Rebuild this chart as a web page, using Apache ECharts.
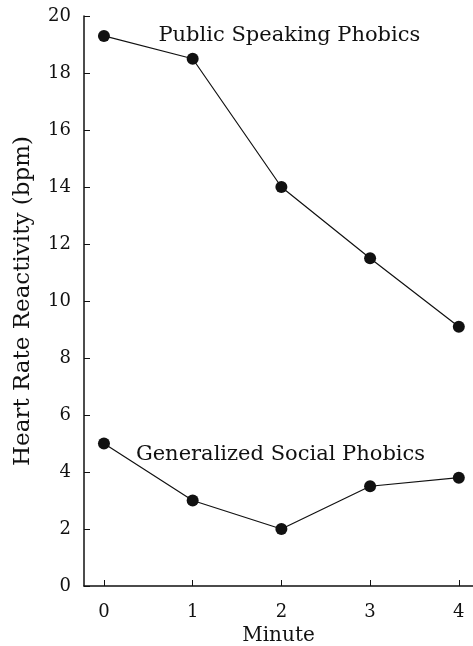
<!DOCTYPE html>
<html>
<head>
<meta charset="utf-8">
<script src="https://cdn.jsdelivr.net/npm/echarts@6/dist/echarts.min.js"></script>
<style>html,body{margin:0;padding:0;background:#fff}#c{width:473px;height:646px}</style>
</head>
<body>
<div id="c"></div>
<script>
const minutes = [0, 1, 2, 3, 4];
const publicSpeaking = [19.3, 18.5, 14.0, 11.5, 9.1];
const generalizedSocial = [5.0, 3.0, 2.0, 3.5, 3.8];
const yTicks = [0, 2, 4, 6, 8, 10, 12, 14, 16, 18, 20];
const xTicks = [0, 1, 2, 3, 4];
const seriesNames = ['Public Speaking Phobics', 'Generalized Social Phobics'];
const labelAnchors = [[2.09, 19.3], [1.99, 4.62]];

const font = 'DejaVu Serif';
const ink = '#111';
const chart = echarts.init(document.getElementById('c'), null, {renderer: 'canvas'});

function mkSeries(name, vals, anchor) {
  return {
    name: name,
    type: 'line',
    data: minutes.map((m, i) => [m, vals[i]]),
    symbol: 'circle',
    symbolSize: 12,
    itemStyle: {color: ink},
    lineStyle: {color: ink, width: 1.2},
    animation: false,
    markPoint: {
      symbol: 'circle', symbolSize: 0,
      data: [{coord: anchor, value: name}],
      label: {show: true, position: 'inside', formatter: name, color: ink,
        fontFamily: font, fontSize: 21},
      animation: false
    }
  };
}

chart.setOption({
  animation: false,
  grid: {left: 84, right: 0, top: 16, bottom: 60, outerBoundsMode: 'none', containLabel: false},
  xAxis: {
    type: 'value', min: -0.225, max: 4.16,
    name: 'Minute', nameLocation: 'middle', nameGap: 38,
    nameTextStyle: {fontFamily: font, fontSize: 20, color: ink},
    axisLine: {show: true, onZero: false, lineStyle: {color: ink, width: 1.5}},
    axisTick: {show: true, inside: true, length: 6, customValues: xTicks, lineStyle: {color: ink}},
    axisLabel: {customValues: xTicks, fontFamily: font, fontSize: 18, color: ink, margin: 17},
    splitLine: {show: false}
  },
  yAxis: {
    type: 'value', min: 0, max: 20, interval: 2,
    name: 'Heart Rate Reactivity (bpm)', nameLocation: 'middle', nameGap: 49,
    nameTextStyle: {fontFamily: font, fontSize: 23, color: ink},
    axisLine: {show: true, onZero: false, lineStyle: {color: ink, width: 1.5}},
    axisTick: {show: true, inside: true, length: 6, customValues: yTicks, lineStyle: {color: ink}},
    axisLabel: {customValues: yTicks, fontFamily: font, fontSize: 18, color: ink, margin: 13},
    splitLine: {show: false}
  },
  series: [
    mkSeries(seriesNames[0], publicSpeaking, labelAnchors[0]),
    mkSeries(seriesNames[1], generalizedSocial, labelAnchors[1])
  ]
});
</script>
</body>
</html>
